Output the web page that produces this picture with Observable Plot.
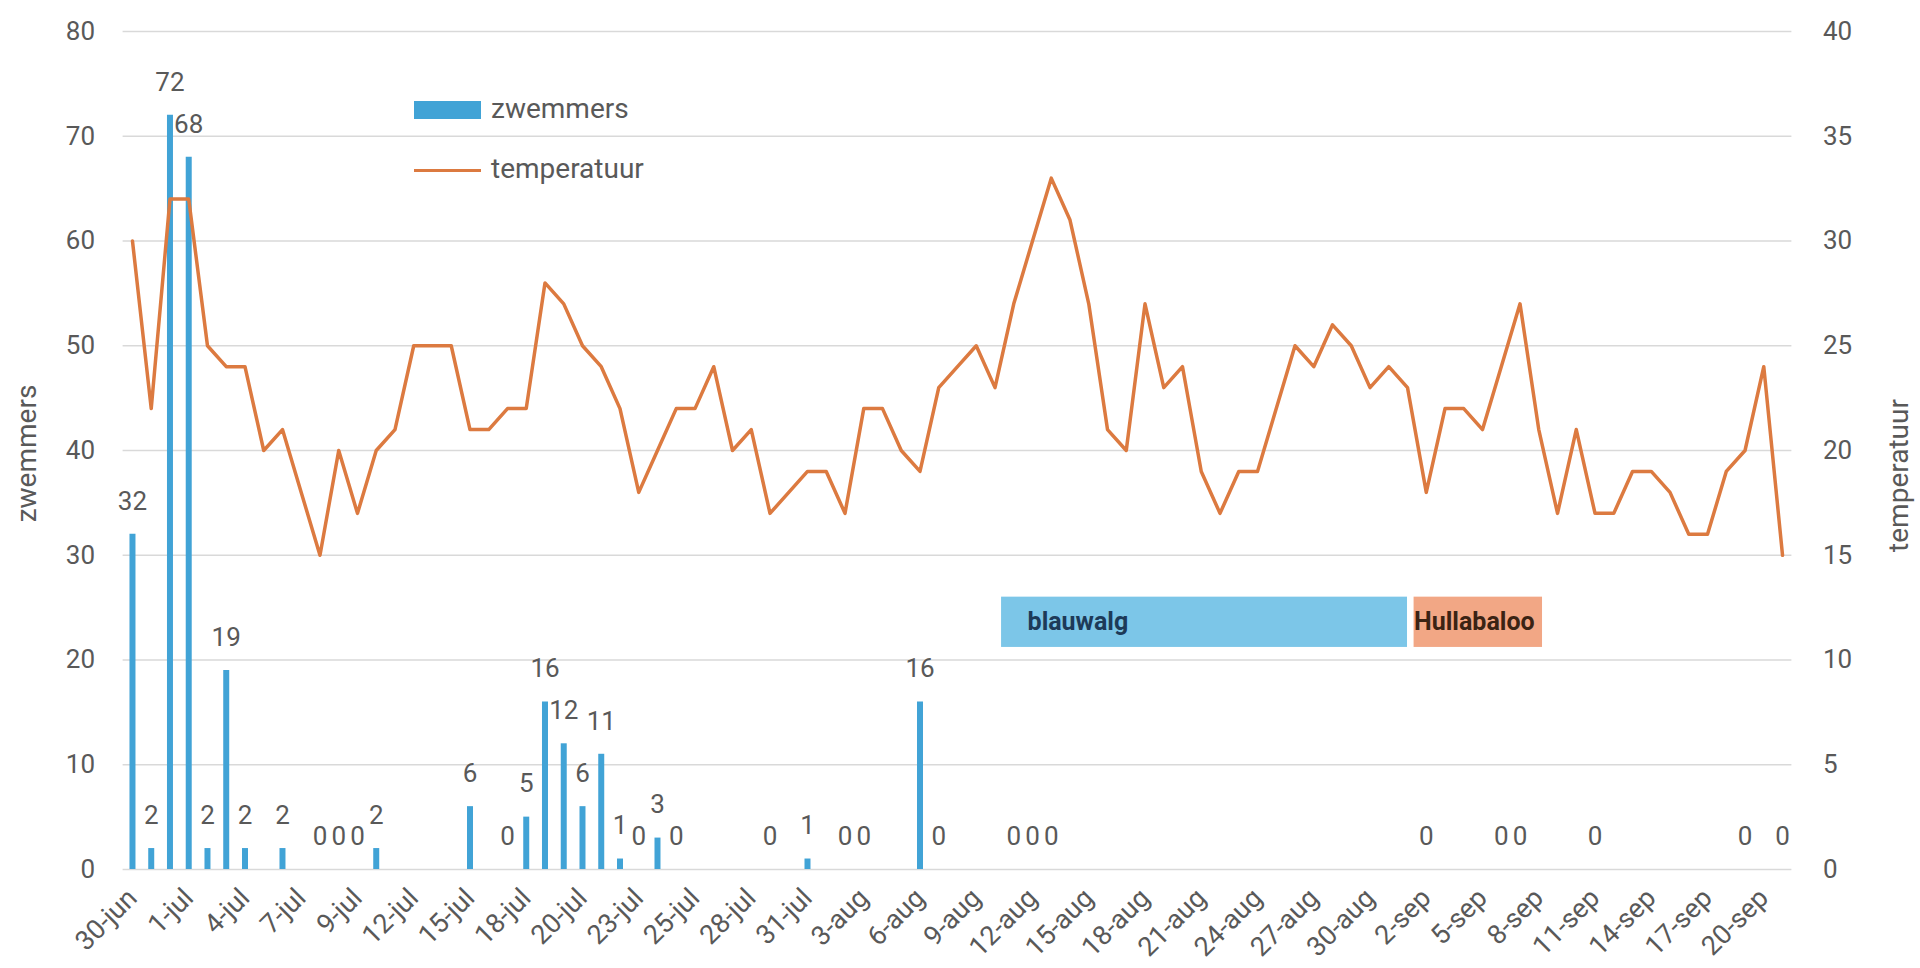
<!DOCTYPE html>
<html>
<head>
<meta charset="utf-8">
<script src="https://cdn.jsdelivr.net/npm/d3@7"></script>
<script src="https://cdn.jsdelivr.net/npm/@observablehq/plot@0.6"></script>
<style>
  html, body { margin: 0; padding: 0; background: #fff; }
  #wrap { position: relative; width: 1920px; height: 968px; overflow: hidden; font-family: Roboto, sans-serif; }
  .lg-swatch { position: absolute; }
  .lg-text { position: absolute; font-size: 28px; color: #595959; line-height: 1; }
</style>
</head>
<body>
<div id="wrap"></div>
<script>
// ---- data ----
// one entry per measurement day (category); null = no swimmer count shown
const zwemmers = [
  32, 2, 72, 68, 2, 19, 2, null, 2, null,
  0, 0, 0, 2, null, null, null, null, 6, null,
  0, 5, 16, 12, 6, 11, 1, 0, 3, 0,
  null, null, null, null, 0, null, 1, null, 0, 0,
  null, null, 16, 0, null, null, null, 0, 0, 0,
  null, null, null, null, null, null, null, null, null, null,
  null, null, null, null, null, null, null, null, null, 0,
  null, null, null, 0, 0, null, null, null, 0, null,
  null, null, null, null, null, null, 0, null, 0
];
const temperatuur = [
  30, 22, 32, 32, 25, 24, 24, 20, 21, 18,
  15, 20, 17, 20, 21, 25, 25, 25, 21, 21,
  22, 22, 28, 27, 25, 24, 22, 18, 20, 22,
  22, 24, 20, 21, 17, 18, 19, 19, 17, 22,
  22, 20, 19, 23, 24, 25, 23, 27, 30, 33,
  31, 27, 21, 20, 27, 23, 24, 19, 17, 19,
  19, 22, 25, 24, 26, 25, 23, 24, 23, 18,
  22, 22, 21, 24, 27, 21, 17, 21, 17, 17,
  19, 19, 18, 16, 16, 19, 20, 24, 15
];
// tick labels, one for every third category
const dagLabels = [
  "30-jun", "1-jul", "4-jul", "7-jul", "9-jul", "12-jul", "15-jul", "18-jul",
  "20-jul", "23-jul", "25-jul", "28-jul", "31-jul", "3-aug", "6-aug", "9-aug",
  "12-aug", "15-aug", "18-aug", "21-aug", "24-aug", "27-aug", "30-aug", "2-sep",
  "5-sep", "8-sep", "11-sep", "14-sep", "17-sep", "20-sep"
];
const zwemTicks = [0, 10, 20, 30, 40, 50, 60, 70, 80];
// periods (in category units) and the swimmer-axis band they are drawn in
const periodeNamen = ["blauwalg", "Hullabaloo"];
const periodeStart = [46.35, 68.35];
const periodeEind = [68.0, 75.2];
const periodeLaag = [21.2, 21.2];
const periodeHoog = [26.0, 26.0];

// ---- build ----
const N = temperatuur.length;
const rows = d3.range(N).map(i => ({i, zw: zwemmers[i], temp: temperatuur[i]}));
const barRows = rows.filter(d => d.zw != null);
const periodes = periodeNamen.map((naam, k) => ({
  naam, k, start: periodeStart[k], eind: periodeEind[k], laag: periodeLaag[k], hoog: periodeHoog[k]
}));

const BLUE = "#41a3d6";
const ORANGE = "#dc7a40";
const GREY = "#595959";

const chart = Plot.plot({
  width: 1920,
  height: 968,
  marginLeft: 122.6,
  marginRight: 128.6,
  marginTop: 31,
  marginBottom: 99,
  x: {domain: [-0.5, N - 0.5]},
  y: {domain: [0, 80]},
  style: {fontFamily: "Roboto, sans-serif", color: GREY, background: "white", overflow: "visible"},
  marks: [
    Plot.ruleY(zwemTicks, {stroke: "#d9d9d9", strokeWidth: 1.6}),
    Plot.rect(periodes, {
      x1: "start", x2: "eind", y1: "laag", y2: "hoog",
      fill: d => d.k === 0 ? "#7cc6e8" : "#f2a785"
    }),
    Plot.text(periodes.filter(d => d.k === 0), {
      x: "start", y: d => (d.laag + d.hoog) / 2, text: "naam",
      textAnchor: "start", dx: 26, fontWeight: "bold", fontSize: 25, fill: "#1d3a58"
    }),
    Plot.text(periodes.filter(d => d.k === 1), {
      x: "start", y: d => (d.laag + d.hoog) / 2, text: "naam",
      textAnchor: "start", dx: 0, fontWeight: "bold", fontSize: 25, fill: "#3b2314"
    }),
    Plot.ruleX(barRows, {x: "i", y1: 0, y2: "zw", stroke: BLUE, strokeWidth: 6}),
    Plot.line(rows, {x: "i", y: d => d.temp * 2, stroke: ORANGE, strokeWidth: 3.5, strokeLinejoin: "round"}),
    Plot.text(barRows, {x: "i", y: "zw", text: d => String(d.zw), dy: -33, fontSize: 26, fill: GREY}),
    Plot.axisY({ticks: zwemTicks, tickSize: 0, tickPadding: 28, fontSize: 26, label: null}),
    Plot.axisY({anchor: "right", ticks: zwemTicks, tickFormat: d => String(d / 2), tickSize: 0, tickPadding: 31, fontSize: 26, label: null}),
    Plot.axisX({
      ticks: d3.range(0, N - 1, 3), tickFormat: i => dagLabels[i / 3],
      tickRotate: -45, tickSize: 0, tickPadding: 24, fontSize: 27, label: null
    }),
    Plot.text(["zwemmers"], {frameAnchor: "left", dx: -96, dy: 3, rotate: -90, textAnchor: "middle", fontSize: 28, fill: GREY}),
    Plot.text(["temperatuur"], {frameAnchor: "right", dx: 107, dy: 25, rotate: -90, textAnchor: "middle", fontSize: 28, fill: GREY})
  ]
});

const wrap = document.getElementById("wrap");
wrap.appendChild(chart);

// legend (inside the plot area, upper left)
const legend = [
  {naam: "zwemmers", kind: "bar"},
  {naam: "temperatuur", kind: "line"}
];
legend.forEach((l, k) => {
  const cy = 110 + k * 60;
  const sw = document.createElement("div");
  sw.className = "lg-swatch";
  sw.style.left = "414px";
  sw.style.width = "67px";
  if (l.kind === "bar") {
    sw.style.top = (cy - 9) + "px"; sw.style.height = "18px"; sw.style.background = BLUE;
  } else {
    sw.style.top = (cy - 1.5) + "px"; sw.style.height = "3px"; sw.style.background = ORANGE;
  }
  wrap.appendChild(sw);
  const tx = document.createElement("div");
  tx.className = "lg-text";
  tx.textContent = l.naam;
  tx.style.left = "491px";
  tx.style.top = (cy - 15) + "px";
  wrap.appendChild(tx);
});
</script>
</body>
</html>
